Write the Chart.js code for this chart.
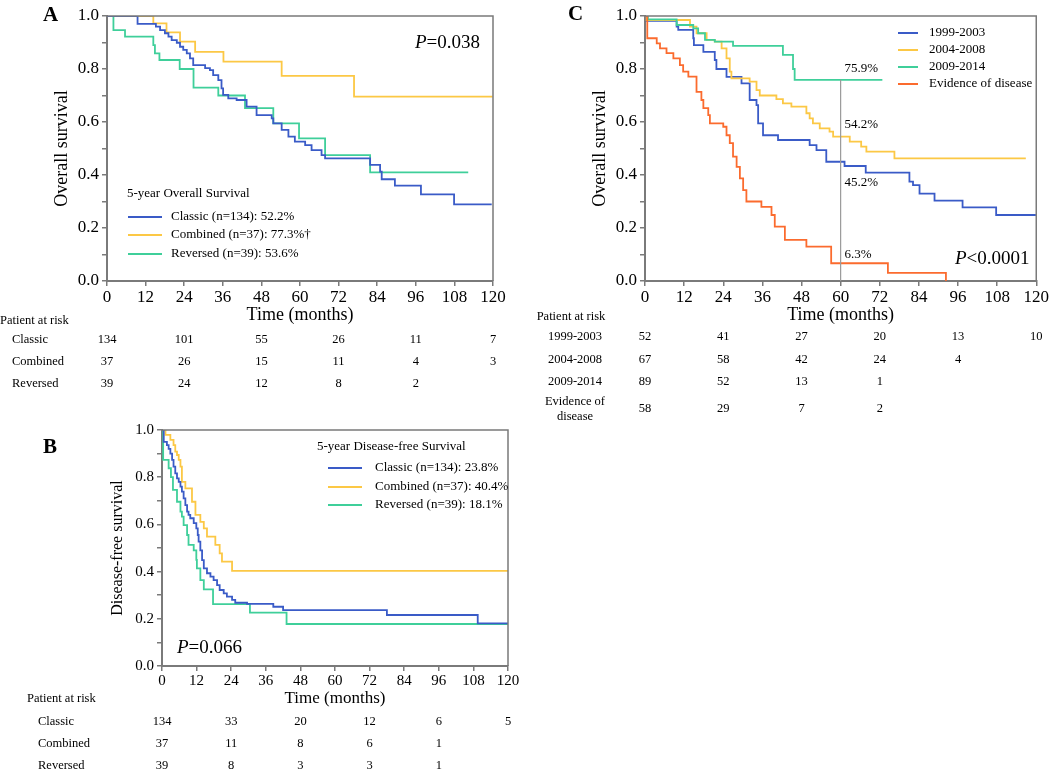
<!DOCTYPE html>
<html>
<head>
<meta charset="utf-8">
<script src="https://cdn.jsdelivr.net/npm/chart.js@4.4.1/dist/chart.umd.min.js"></script>
<style>
  body { margin: 0; background: #fff; width: 1050px; height: 774px; position: relative; overflow: hidden; }
  canvas { position: absolute; }
  .tag { position: absolute; font-family: "Liberation Serif", "Times New Roman", serif; font-weight: bold; font-size: 21px; line-height: 21px; color: #000; }
</style>
</head>
<body>
<canvas id="panelA" width="530" height="395" style="left:0;top:0"></canvas>
<canvas id="panelC" width="520" height="430" style="left:530px;top:0"></canvas>
<canvas id="panelB" width="530" height="359" style="left:0;top:415px"></canvas>
<div class="tag" style="left:43px;top:4px">A</div>
<div class="tag" style="left:568px;top:3px">C</div>
<div class="tag" style="left:43px;top:436px">B</div>
<script>
// risk table columns (months)
const riskMonths = [0, 24, 48, 72, 96, 120];

// --- A: overall survival by pattern ---
const osClassicT = [0, 9.5, 15.2, 16.5, 18.0, 19.1, 20.1, 21.7, 22.7, 23.7, 24.8, 25.8, 26.8, 30.5, 32, 33, 34.6, 35.6, 36.1, 37.7, 40.3, 43.4, 46.5, 51.2, 51.7, 54.3, 56.4, 58.4, 61.6, 63.6, 66.7, 67.8, 81.8, 84.9, 85.4, 89.5, 97.6, 107.9, 119.6];
const osClassicS = [1, 0.970, 0.960, 0.947, 0.935, 0.922, 0.909, 0.899, 0.884, 0.872, 0.859, 0.840, 0.815, 0.803, 0.796, 0.777, 0.758, 0.727, 0.702, 0.689, 0.683, 0.658, 0.626, 0.614, 0.595, 0.570, 0.545, 0.526, 0.513, 0.494, 0.475, 0.463, 0.438, 0.413, 0.384, 0.360, 0.327, 0.289, 0.289];
const osCombinedT = [0, 14.4, 18.5, 22.7, 27.4, 36.2, 54.3, 76.8, 119.9];
const osCombinedS = [1, 0.972, 0.938, 0.903, 0.865, 0.828, 0.774, 0.696, 0.696];
const osReversedT = [0, 2.0, 5.6, 14.4, 14.9, 16.3, 22.6, 26.9, 34.6, 42.9, 51.7, 59.7, 67.8, 81.8, 112.3];
const osReversedS = [1, 0.947, 0.922, 0.890, 0.859, 0.834, 0.800, 0.730, 0.700, 0.652, 0.595, 0.538, 0.475, 0.410, 0.410];
const osLegendLabels = ["Classic (n=134): 52.2%", "Combined (n=37): 77.3%\u2020", "Reversed (n=39): 53.6%"];
const osRiskLabels = ["Classic", "Combined", "Reversed"];
const osRiskClassic = [134, 101, 55, 26, 11, 7];
const osRiskCombined = [37, 26, 15, 11, 4, 3];
const osRiskReversed = [39, 24, 12, 8, 2, null];

// --- B: disease-free survival by pattern ---
const dfsClassicT = [0, 0.6, 1.7, 2.3, 2.9, 3.5, 4.0, 4.6, 5.2, 5.8, 6.4, 6.9, 7.5, 8.1, 8.7, 9.2, 9.8, 11.0, 11.9, 12.4, 12.7, 13.3, 13.9, 14.5, 15.6, 16.8, 17.9, 19.1, 20.0, 21.4, 22.5, 24.3, 25.4, 29.5, 38.6, 42, 78, 109.5, 120];
const dfsClassicS = [1, 0.950, 0.936, 0.920, 0.900, 0.873, 0.845, 0.816, 0.795, 0.780, 0.760, 0.739, 0.710, 0.682, 0.654, 0.640, 0.626, 0.605, 0.583, 0.555, 0.527, 0.490, 0.449, 0.414, 0.393, 0.379, 0.364, 0.343, 0.322, 0.308, 0.294, 0.280, 0.268, 0.263, 0.251, 0.237, 0.216, 0.181, 0.181];
const dfsCombinedT = [0, 1.2, 2.9, 4.0, 4.6, 5.2, 5.8, 6.4, 6.9, 8.1, 10.4, 11.6, 13.3, 14.5, 15.6, 18.5, 20, 20.8, 24.3, 120];
const dfsCombinedS = [1, 0.979, 0.958, 0.936, 0.908, 0.894, 0.873, 0.845, 0.780, 0.753, 0.696, 0.640, 0.611, 0.583, 0.548, 0.513, 0.477, 0.442, 0.403, 0.403];
const dfsReversedT = [0, 0.4, 2.3, 3.1, 3.8, 5.2, 6.4, 6.9, 7.5, 8.7, 9.2, 11.0, 11.9, 12.1, 13.3, 14.5, 17.7, 30.5, 43.2, 120];
const dfsReversedS = [1, 0.873, 0.838, 0.800, 0.746, 0.696, 0.654, 0.633, 0.597, 0.555, 0.513, 0.490, 0.450, 0.414, 0.364, 0.325, 0.262, 0.226, 0.178, 0.178];
const dfsLegendLabels = ["Classic (n=134): 23.8%", "Combined (n=37): 40.4%", "Reversed (n=39): 18.1%"];
const dfsRiskClassic = [134, 33, 20, 12, 6, 5];
const dfsRiskCombined = [37, 11, 8, 6, 1, null];
const dfsRiskReversed = [39, 8, 3, 3, 1, null];

// --- C: overall survival by period ---
const p1999T = [0, 0.5, 9.7, 10.2, 14.8, 15.0, 17.9, 21.4, 21.9, 25, 29.6, 32.1, 34.2, 34.7, 36.2, 40.8, 50.5, 52.6, 55.6, 61.2, 67.7, 81.1, 82.2, 84.2, 88.8, 97.4, 107.7, 119.9];
const p1999S = [1, 0.982, 0.960, 0.948, 0.916, 0.890, 0.865, 0.834, 0.800, 0.770, 0.746, 0.683, 0.664, 0.595, 0.550, 0.532, 0.513, 0.494, 0.450, 0.434, 0.409, 0.375, 0.362, 0.330, 0.303, 0.278, 0.249, 0.249];
const p2004T = [0, 0.5, 13.8, 15.8, 18.9, 21.4, 23.5, 25, 26, 26.5, 32.1, 34.2, 35.2, 40.3, 42.3, 44.9, 49.5, 50.5, 51.5, 53.6, 56.6, 57.7, 62.8, 66.3, 67.9, 76.5, 116.8];
const p2004S = [1, 0.985, 0.960, 0.935, 0.910, 0.903, 0.878, 0.840, 0.790, 0.765, 0.752, 0.720, 0.700, 0.686, 0.670, 0.658, 0.633, 0.614, 0.595, 0.576, 0.564, 0.545, 0.526, 0.507, 0.488, 0.463, 0.463];
const p2009T = [0, 0.9, 9.7, 14.8, 16.3, 18.4, 21.4, 27, 42.3, 45.4, 45.9, 72.8];
const p2009S = [1, 0.987, 0.966, 0.953, 0.935, 0.910, 0.903, 0.887, 0.853, 0.800, 0.759, 0.759];
const evidenceT = [0, 0.7, 3.6, 4.6, 6.6, 8.7, 10.7, 11.7, 13.3, 15.8, 17.3, 17.9, 19.4, 19.9, 24, 25, 26, 27, 28.1, 29.1, 30.1, 31.1, 35.7, 38.8, 39.8, 42.9, 49.5, 57.1, 74.5, 92.3];
const evidenceS = [1, 0.916, 0.897, 0.878, 0.860, 0.840, 0.815, 0.790, 0.771, 0.714, 0.683, 0.652, 0.626, 0.595, 0.582, 0.550, 0.520, 0.469, 0.431, 0.387, 0.343, 0.300, 0.280, 0.249, 0.205, 0.155, 0.130, 0.067, 0.031, 0.0];
const periodLegendLabels = ["1999-2003", "2004-2008", "2009-2014", "Evidence of disease"];
const fiveYearMonth = 60;
const fiveYearLabels = ["75.9%", "54.2%", "45.2%", "6.3%"];
const fiveYearLabelS = [0.80, 0.589, 0.37, 0.098];
const periodRiskLabels = ["1999-2003", "2004-2008", "2009-2014", "Evidence of\ndisease"];
const periodRisk1999 = [52, 41, 27, 20, 13, 10];
const periodRisk2004 = [67, 58, 42, 24, 4, null];
const periodRisk2009 = [89, 52, 13, 1, null, null];
const periodRiskEvidence = [58, 29, 7, 2, null, null];

const SERIF = "'Liberation Serif', 'Times New Roman', serif";
const AXIS = "#7a7a7a";
const BLUE = "#3a5bc7";
const YELLOW = "#fcc845";
const GREEN = "#3fcf9a";
const ORANGE = "#fb6b2e";

function kmDataset(times, surv, color) {
  return {
    data: times.map((t, i) => ({ x: t, y: surv[i] })),
    borderColor: color,
    borderWidth: 1.8,
    pointRadius: 0,
    stepped: true,
    fill: false
  };
}

function survivalAt(times, surv, t) {
  let s = surv[0];
  times.forEach((ti, i) => { if (ti <= t) s = surv[i]; });
  return s;
}

function kmScales(o) {
  const grid = { drawOnChartArea: false, tickLength: 5, color: AXIS, lineWidth: 1.5 };
  const border = { color: AXIS, width: 2 };
  return {
    x: {
      type: "linear", min: 0, max: 120,
      ticks: { stepSize: 12, autoSkip: false, maxRotation: 0, padding: 1, color: "#000", font: { family: SERIF, size: o.tick } },
      grid: grid, border: border,
      title: { display: true, text: "Time (months)", color: "#000", padding: 0, font: { family: SERIF, size: o.xTitle } },
      afterFit: (s) => { s.height = o.xHeight; }
    },
    y: {
      type: "linear", min: 0, max: 1,
      ticks: {
        stepSize: 0.1, autoSkip: false, padding: 3, color: "#000", font: { family: SERIF, size: o.tick },
        callback: (v) => (Math.round(v * 10) % 2 === 0 ? v.toFixed(1) : "")
      },
      grid: grid, border: border,
      title: { display: true, text: o.yTitle, color: "#000", padding: { top: o.yTitlePad, bottom: 0 }, font: { family: SERIF, size: o.yTitleSize } },
      afterFit: (s) => { s.width = 60; }
    }
  };
}

function text(ctx, str, x, y, size, align, style) {
  ctx.font = (style || "") + " " + size + "px " + SERIF;
  ctx.textAlign = align || "left";
  ctx.textBaseline = "middle";
  ctx.fillStyle = "#000";
  ctx.fillText(str, x, y);
}

function pValue(ctx, rest, x, y) {
  text(ctx, "P", x, y, 19, "left", "italic");
  const w = ctx.measureText("P").width;
  text(ctx, rest, x + w, y, 19, "left");
}

// frame, legend, p value and risk table drawn after the chart
function extras(spec) {
  return {
    id: "extras",
    afterDraw(chart) {
      const ctx = chart.ctx;
      const a = chart.chartArea;
      const xs = chart.scales.x;
      ctx.save();
      ctx.strokeStyle = AXIS;
      ctx.lineWidth = 1.5;
      ctx.beginPath();
      ctx.moveTo(a.left, a.top);
      ctx.lineTo(a.right, a.top);
      ctx.lineTo(a.right, a.bottom);
      ctx.stroke();

      const lg = spec.legend;
      if (lg.title) text(ctx, lg.title, lg.titleX, lg.titleY, 13);
      lg.labels.forEach((lab, i) => {
        ctx.strokeStyle = lg.colors[i];
        ctx.lineWidth = 2;
        ctx.beginPath();
        ctx.moveTo(lg.x1, lg.ys[i]);
        ctx.lineTo(lg.x2, lg.ys[i]);
        ctx.stroke();
        text(ctx, lab, lg.textX, lg.ys[i], 13);
      });

      pValue(ctx, spec.p.text, spec.p.x, spec.p.y);

      if (spec.notes) {
        spec.notes.labels.forEach((lab, i) => {
          text(ctx, lab, xs.getPixelForValue(spec.notes.t), chart.scales.y.getPixelForValue(spec.notes.s[i]), 13);
        });
      }

      const rk = spec.risk;
      text(ctx, "Patient at risk", rk.headX, rk.headY, 12.5, rk.align);
      rk.labels.forEach((lab, i) => {
        const lines = lab.split("\n");
        lines.forEach((ln, j) => {
          const y = rk.ys[i] + (j - (lines.length - 1) / 2) * 15;
          text(ctx, ln, rk.labelX, y, 12.5, rk.align);
        });
        rk.rows[i].forEach((n, k) => {
          if (n !== null) text(ctx, String(n), xs.getPixelForValue(riskMonths[k]), rk.ys[i], 12.5, "center");
        });
      });
      ctx.restore();
    }
  };
}

function makeChart(id, datasets, scales, padding, spec) {
  return new Chart(document.getElementById(id), {
    type: "line",
    data: { datasets: datasets },
    options: {
      responsive: false,
      animation: false,
      devicePixelRatio: 1,
      layout: { padding: padding },
      plugins: { legend: { display: false }, tooltip: { enabled: false } },
      scales: scales
    },
    plugins: [extras(spec)]
  });
}

// panel A
makeChart("panelA",
  [kmDataset(osClassicT, osClassicS, BLUE), kmDataset(osCombinedT, osCombinedS, YELLOW), kmDataset(osReversedT, osReversedS, GREEN)],
  kmScales({ tick: 17, xTitle: 18, xHeight: 45, yTitle: "Overall survival", yTitleSize: 18, yTitlePad: 4 }),
  { left: 47, right: 37, top: 16, bottom: 69 },
  {
    legend: { title: "5-year Overall Survival", titleX: 127, titleY: 194, x1: 128, x2: 162, textX: 171, ys: [217, 235, 254], labels: osLegendLabels, colors: [BLUE, YELLOW, GREEN] },
    p: { text: "=0.038", x: 415, y: 43 },
    risk: { headX: 0, headY: 321, labelX: 12, align: "left", ys: [340, 362, 384], labels: osRiskLabels, rows: [osRiskClassic, osRiskCombined, osRiskReversed] }
  });

// panel C
const fiveYearLine = { data: [{ x: fiveYearMonth, y: 0 }, { x: fiveYearMonth, y: survivalAt(p2009T, p2009S, fiveYearMonth) }], borderColor: "#9a9a9a", borderWidth: 1.2, pointRadius: 0, fill: false };
makeChart("panelC",
  [fiveYearLine, kmDataset(evidenceT, evidenceS, ORANGE), kmDataset(p2009T, p2009S, GREEN), kmDataset(p2004T, p2004S, YELLOW), kmDataset(p1999T, p1999S, BLUE)],
  kmScales({ tick: 17, xTitle: 18, xHeight: 45, yTitle: "Overall survival", yTitleSize: 18, yTitlePad: 4 }),
  { left: 55, right: 13, top: 16, bottom: 104 },
  {
    legend: { x1: 368, x2: 388, textX: 399, ys: [33, 50, 67, 84], labels: periodLegendLabels, colors: [BLUE, YELLOW, GREEN, ORANGE] },
    p: { text: "<0.0001", x: 425, y: 259 },
    notes: { t: 61.2, s: fiveYearLabelS, labels: fiveYearLabels },
    risk: { headX: 41, headY: 317, labelX: 45, align: "center", ys: [337, 360, 382, 409], labels: periodRiskLabels, rows: [periodRisk1999, periodRisk2004, periodRisk2009, periodRiskEvidence] }
  });

// panel B
makeChart("panelB",
  [kmDataset(dfsClassicT, dfsClassicS, BLUE), kmDataset(dfsCombinedT, dfsCombinedS, YELLOW), kmDataset(dfsReversedT, dfsReversedS, GREEN)],
  kmScales({ tick: 15, xTitle: 17, xHeight: 43, yTitle: "Disease-free survival", yTitleSize: 16, yTitlePad: 6 }),
  { left: 102, right: 22, top: 15, bottom: 65 },
  {
    legend: { title: "5-year Disease-free Survival", titleX: 317, titleY: 32, x1: 328, x2: 362, textX: 375, ys: [53, 72, 90], labels: dfsLegendLabels, colors: [BLUE, YELLOW, GREEN] },
    p: { text: "=0.066", x: 177, y: 233 },
    risk: { headX: 27, headY: 284, labelX: 38, align: "left", ys: [307, 329, 351], labels: osRiskLabels, rows: [dfsRiskClassic, dfsRiskCombined, dfsRiskReversed] }
  });
</script>
</body>
</html>
